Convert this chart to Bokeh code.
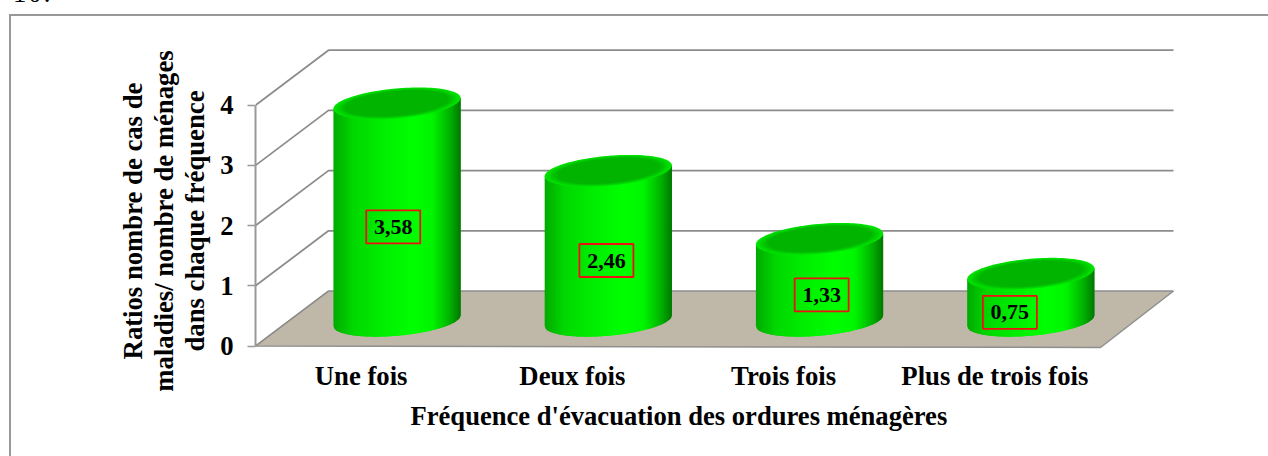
import numpy as np
from bokeh.plotting import figure
from bokeh.embed import file_html
from bokeh.resources import INLINE
from bokeh.core.properties import value
from bokeh.layouts import column
from bokeh.models import FixedTicker, Range1d, Title, LinearAxis, Div

categories = ["Une fois", "Deux fois", "Trois fois", "Plus de trois fois"]
ratios = [3.58, 2.46, 1.33, 0.75]
labels = ["3,58", "2,46", "1,33", "0,75"]
y_ticks = [0, 1, 2, 3, 4]
y_title = "Ratios nombre de cas de\nmaladies/ nombre de ménages\ndans chaque fréquence"
x_title = "Fréquence d'évacuation des ordures ménagères"

# layout constants (pixels)
W, H = 1268, 456
PX_X, PX_Y = 211.25, 60.2            # pixels per category / per unit
FL, FR, FT, FB = 255, 1175, 47, 394  # frame in canvas px
ZERO_Y = 345.5                       # canvas y of value 0
DX, DV = 73 / PX_X, 55 / PX_Y        # 3D depth in data units
FONT = "Liberation Serif"

x0 = -0.5
x1 = x0 + (FR - FL) / PX_X
v0 = (ZERO_Y - FB) / PX_Y
v1 = (ZERO_Y - FT) / PX_Y

grey = "linear-gradient(#989898,#989898)"
p = figure(width=W, height=H, output_backend="svg", toolbar_location=None,
           x_range=Range1d(x0, x1), y_range=Range1d(v0, v1),
           min_border_left=FL, min_border_right=W - FR, min_border_top=FT, min_border_bottom=H - FB,
           outline_line_color=None, background_fill_alpha=0, border_fill_alpha=0,
           y_axis_location=None, x_axis_location=None,
           styles={"background-image": f"{grey},{grey}",
                   "background-size": "2px 442px,1259px 2px",
                   "background-position": "9px 14px,9px 14px",
                   "background-repeat": "no-repeat"})
p.grid.visible = False

# floor
px = [x0, x0 + 4, x0 + 4 + DX, x0 + DX]
py = [0, -0.025, DV, DV]
p.patch(px, py, fill_color="#bfb7a7", line_color="#8f8f8f", line_width=1.5)

# walls
for t in y_ticks[1:]:
    p.line([x0, x0 + DX, x0 + 4 + DX], [t, t + DV, t + DV], line_color="#8c8c8c", line_width=1.8)
p.line([x0, x0 + DX], [0, DV], line_color="#8c8c8c", line_width=1.5)


def body_colour(f):
    stops = [0, .15, .4, .62, .78, .92, 1]
    g = np.interp(f, stops, [170, 215, 240, 255, 245, 175, 120])
    return "#00%02x00" % int(g)


SLOPE, A, K = -0.085, 63.6, 15.0
OFFSET_X, OFFSET_V = DX / 2 - 0.6 / PX_X, 0.42
TOP_LIFT = 1.8 / PX_Y
BANDS = 64
sx = np.linspace(-A, A, BANDS + 1)
for i, val in enumerate(ratios):
    cx = i + OFFSET_X
    top = OFFSET_V + val + TOP_LIFT
    xs, ys, cols = [], [], []
    for j in range(BANDS):
        a, b = sx[j], sx[min(j + 2, BANDS)]
        t = np.linspace(a, b, 5)
        lo = SLOPE * t + K * np.sqrt(np.clip(1 - (t / A) ** 2, 0, 1))
        lo_v = OFFSET_V - lo / PX_Y
        top_v = top - (SLOPE * t[::-1]) / PX_Y
        xs.append(list(cx + np.r_[t, t[::-1]] / PX_X))
        ys.append(list(np.r_[lo_v, top_v]))
        cols.append(body_colour((j + .5) / BANDS))
    p.patches(xs, ys, fill_color=cols, line_color=None)
    # top surface
    th = np.linspace(0, 2 * np.pi, 120)
    for s, g in zip(np.linspace(1, 0.82, 6), np.linspace(228, 180, 6)):
        ex = A * s * np.cos(th)
        ey = SLOPE * ex + K * s * np.sin(th)
        c = "#00%02x00" % int(g)
        p.patch(list(cx + ex / PX_X), list(top - ey / PX_Y), fill_color=c, line_color=None)

# value labels
label_x = [0.152, 0.161, 0.180, 0.071]
label_y = [1.98, 1.42, 0.85, 0.56]
lx = [i + o for i, o in enumerate(label_x)]
p.rect(lx, label_y, width=54, height=33, width_units="screen", height_units="screen",
       fill_alpha=0, line_color="#ee1111", line_width=1.8)
p.text(lx, label_y, text=labels, text_font=value(FONT), text_font_style="bold", text_font_size="22px",
       text_align="center", text_baseline="middle", text_color="black")

# axes
ya = LinearAxis(ticker=FixedTicker(ticks=y_ticks), bounds=(0, 4), axis_label=y_title)
ya.major_label_text_font = FONT
ya.major_label_text_font_style = "bold"
ya.major_label_text_font_size = "26.7px"
ya.major_label_text_color = "black"
ya.major_label_standoff = 14
ya.major_tick_line_color = "#999999"
ya.major_tick_line_width = 1.5
ya.major_tick_in = 0
ya.major_tick_out = 8
ya.minor_tick_line_color = None
ya.axis_line_color = "#999999"
ya.axis_line_width = 2
ya.axis_label_text_font = FONT
ya.axis_label_text_font_style = "bold"
ya.axis_label_text_font_size = "26.7px"
ya.axis_label_text_color = "black"
ya.axis_label_text_line_height = 1.03
ya.axis_label_standoff = 7
p.add_layout(ya, "left")

xa = LinearAxis(ticker=FixedTicker(ticks=list(range(4))),
                major_label_overrides={i: c for i, c in enumerate(categories)})
xa.major_label_text_font = FONT
xa.major_label_text_font_style = "bold"
xa.major_label_text_font_size = "26.7px"
xa.major_label_text_color = "black"
xa.major_label_standoff = -40
xa.axis_line_color = None
xa.major_tick_line_color = None
xa.minor_tick_line_color = None
p.add_layout(xa, "below")

t = Title(text=x_title, align="left", offset=155, standoff=8, text_font=FONT, text_font_style="bold",
          text_font_size="26.6px", text_color="black")
p.add_layout(t, "below")

fragment = Div(text="10.", width=60, height=0, margin=(-478, 0, 0, 13),
               styles={"font-family": FONT, "font-size": "26.7px", "letter-spacing": "2px",
                       "color": "black", "line-height": "30px", "overflow": "visible"})

open("out.html", "w").write(file_html(column(p, fragment, spacing=0), INLINE))
